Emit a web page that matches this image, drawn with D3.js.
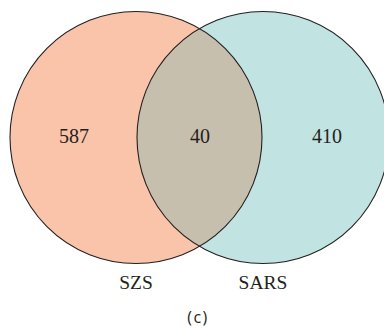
<!DOCTYPE html>
<html>
<head>
<meta charset="utf-8">
<script src="https://cdn.jsdelivr.net/npm/d3@7/dist/d3.min.js"></script>
<style>
  html, body { margin: 0; padding: 0; background: #fff; }
  svg { display: block; }
</style>
</head>
<body>
<svg id="chart" width="384" height="330"></svg>
<script>
// Two-set Venn diagram: SZS vs SARS
const sets = ["SZS", "SARS"];
const setColors = ["#f9c4a9", "#c1e3e2"];
const overlapColor = "#c6bfae";
const onlyCounts = [587, 410];   // unique to each set
const sharedCount = 40;           // in both sets
const panelLabel = "(c)";

const svg = d3.select("#chart");

const r = 126;
const cy = 137.5;
const x = d3.scalePoint().domain(sets).range([136, 263]);

const defs = svg.append("defs");
defs.append("clipPath").attr("id", "clip-left")
  .append("circle").attr("cx", x(sets[0])).attr("cy", cy).attr("r", r);

// filled circles
svg.selectAll("circle.set")
  .data(sets)
  .join("circle")
  .attr("class", "set")
  .attr("cx", d => x(d))
  .attr("cy", cy)
  .attr("r", r)
  .attr("fill", (d, i) => setColors[i]);

// intersection region
svg.append("circle")
  .attr("cx", x(sets[1]))
  .attr("cy", cy)
  .attr("r", r)
  .attr("clip-path", "url(#clip-left)")
  .attr("fill", overlapColor);

// outlines
svg.selectAll("circle.outline")
  .data(sets)
  .join("circle")
  .attr("class", "outline")
  .attr("cx", d => x(d))
  .attr("cy", cy)
  .attr("r", r)
  .attr("fill", "none")
  .attr("stroke", "#231f20")
  .attr("stroke-width", 1.1);

const serif = "'Liberation Serif', 'DejaVu Serif', serif";

// count labels: left-only, shared, right-only
const xl = x(sets[0]), xr = x(sets[1]);
const regionLabels = [
  { v: onlyCounts[0], x: (xl - r + xr - r) / 2 + 0.5 },
  { v: sharedCount,   x: (xr - r + xl + r) / 2 + 0.5 },
  { v: onlyCounts[1], x: (xl + r + xr + r) / 2 + 1.5 }
];
svg.selectAll("text.count")
  .data(regionLabels)
  .join("text")
  .attr("class", "count")
  .attr("x", d => d.x)
  .attr("y", 143)
  .attr("text-anchor", "middle")
  .attr("font-family", serif)
  .attr("font-size", 20)
  .attr("fill", "#231f20")
  .text(d => d.v);

// set names under circles
svg.selectAll("text.setname")
  .data(sets)
  .join("text")
  .attr("class", "setname")
  .attr("x", d => x(d))
  .attr("y", 288.5)
  .attr("text-anchor", "middle")
  .attr("font-family", serif)
  .attr("font-size", 19.5)
  .attr("fill", "#231f20")
  .text(d => d);

svg.append("text")
  .attr("x", 198)
  .attr("y", 323)
  .attr("text-anchor", "middle")
  .attr("font-family", "'Open Sans', 'Liberation Sans', sans-serif")
  .attr("font-size", 16)
  .attr("letter-spacing", 1.5)
  .attr("fill", "#231f20")
  .text(panelLabel);
</script>
</body>
</html>
